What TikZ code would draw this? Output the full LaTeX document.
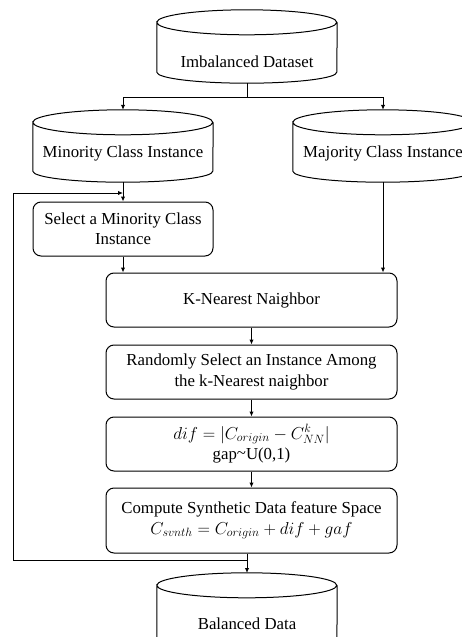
\documentclass[tikz,border=0pt]{standalone}
\usepackage{fontspec}
\setmainfont{Liberation Serif}
\usetikzlibrary{arrows.meta,calc}
\begin{document}
\begin{tikzpicture}[x=1pt,y=-1pt,
  every node/.style={font=\fontsize{16.8}{20.5}\selectfont},
  lbl/.style={inner sep=0pt,align=center},
  cylbox/.style={draw=none,inner sep=0pt,minimum width=180pt},
  procbox/.style={draw,line width=1pt,rounded corners=8pt,inner sep=0pt,align=center},
  arr/.style={-{Latex[length=5pt,width=4.5pt]},line width=1pt},
  ln/.style={line width=1pt},
  cylline/.style={line width=1pt}]
\useasboundingbox (0,0) rectangle (462,637);
% cylinders (invisible frame nodes)
\node[cylbox,minimum height=73pt] (imb) at (247,46.5) {};
\node[cylbox,minimum height=72pt] (min) at (123,146) {};
\node[cylbox,minimum height=72pt] (maj) at (383,146) {};
\node[cylbox,minimum height=100pt] (bal) at (247,623) {};
\foreach \n/\b in {imb/11,min/11,maj/11,bal/11}{
  \draw[cylline] ([yshift=-12.5pt]\n.north west)
     arc[start angle=180,end angle=-180,x radius=90pt,y radius=12.5pt]
     -- ([yshift=\b pt]\n.south west)
     arc[start angle=180,end angle=360,x radius=90pt,y radius=\b pt]
     -- ([yshift=-12.5pt]\n.north east);
}
\node[lbl] (imbT) at (247,62) {Imbalanced Dataset};
\node[lbl] (minT) at (123,153) {Minority Class Instance};
\node[lbl] (majT) at (383,153) {Majority Class Instance};
\node[lbl] (balT) at (247,624) {Balanced Data};
% process boxes
\node[procbox,minimum width=180pt,minimum height=54pt] (sel) at (123,229)
  {Select a Minority Class\\Instance};
\node[procbox,minimum width=291pt,minimum height=54pt] (knn) at (251.5,300)
  {K-Nearest Naighbor};
\node[procbox,minimum width=291pt,minimum height=54pt] (rnd) at (251.5,372)
  {Randomly Select an Instance Among\\the k-Nearest naighbor};
\node[procbox,minimum width=291pt,minimum height=54pt] (dif) at (251.5,444)
  {$dif=\bigl|C_{origin}-C_{NN}^{k}\bigr|$\\gap\raisebox{0.15ex}{\textasciitilde}U(0,1)};
\node[procbox,minimum width=291pt,minimum height=65pt] (cmp) at (251.5,520.5)
  {Compute Synthetic Data feature Space\\$C_{svnth}=C_{origin}+dif+gaf$};
% connectors
\coordinate (split) at (247,97);
\draw[ln] (imb.south) -- (split);
\draw[arr] (split) -| (min.north);
\draw[arr] (split) -| (maj.north);
\draw[arr] (min.south) -- (sel.north);
\draw[arr] (sel.south) -- (sel.south |- knn.north);
\draw[arr] (maj.south) -- (maj.south |- knn.north);
\draw[arr] (knn) -- (rnd);
\draw[arr] (rnd) -- (dif);
\draw[arr] (dif) -- (cmp);
\coordinate (bt) at (247,573);
\draw[arr] (cmp.south -| bt) -- (bt);
\coordinate (fb) at (247,560);
\coordinate (fbL) at (13,560);
\coordinate (fbT) at (13,193);
\draw[arr] (fb) -- (fbL) -- (fbT) -- (min.south |- fbT);
\end{tikzpicture}
\end{document}
